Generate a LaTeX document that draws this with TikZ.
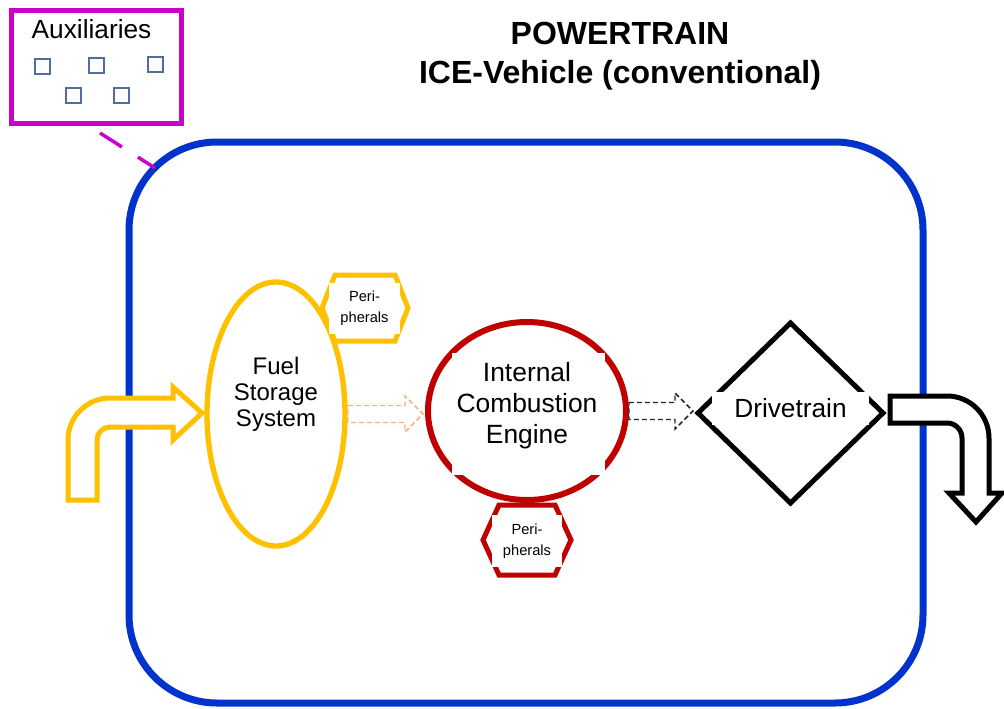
\documentclass[tikz,border=0pt]{standalone}
\usepackage{fontspec}
\setmainfont{Liberation Sans}
\usetikzlibrary{calc,shapes.geometric}
\definecolor{ptblue}{RGB}{0,51,204}
\definecolor{auxmagenta}{RGB}{204,0,204}
\definecolor{auxslate}{RGB}{80,110,155}
\definecolor{fuelyellow}{RGB}{255,192,0}
\definecolor{icered}{RGB}{192,0,0}
\definecolor{flowtan}{RGB}{244,177,131}
\def\hollowarrow[#1](#2)(#3){\draw[#1] ($(#2)+(3,-8.5)$) -- ($(#3 |- #2)+(-23,-8.5)$) -- ($(#3 |- #2)+(-23,-18)$) -- ($(#3 |- #2)+(-5,0)$) -- ($(#3 |- #2)+(-23,18)$) -- ($(#3 |- #2)+(-23,8.5)$) -- ($(#2)+(3,8.5)$) -- cycle;}
\def\periph[#1](#2)(#3:#4:#5){\draw[#1] ($(#2)+(-#3,0)$) -- ($(#2)+(-#4,-#5)$) -- ($(#2)+(#4,-#5)$) -- ($(#2)+(#3,0)$) -- ($(#2)+(#4,#5)$) -- ($(#2)+(-#4,#5)$) -- cycle;}
\tikzset{
	ptframe/.style={draw=ptblue, line width=5.25pt, rounded corners=66pt, minimum width=595.5pt, minimum height=420.75pt, inner sep=0pt, outer sep=0pt},
	auxframe/.style={draw=auxmagenta, line width=3.75pt, minimum width=127.5pt, minimum height=85pt, inner sep=0pt, outer sep=0pt},
	auxunit/.style={draw=auxslate, line width=1.5pt},
	auxlink/.style={draw=auxmagenta, line width=2.6pt, dash pattern=on 19.5pt off 14.25pt},
	fuelshape/.style={ellipse, draw=fuelyellow, line width=4pt, minimum width=103.5pt, minimum height=198pt, inner sep=0pt, outer sep=0pt},
	iceshape/.style={ellipse, draw=icered, line width=4.5pt, minimum width=148.5pt, minimum height=133.5pt, inner sep=0pt, outer sep=0pt},
	driveshape/.style={diamond, draw=black, line width=3.75pt, minimum width=138.75pt, minimum height=135pt, inner sep=0pt, outer sep=0pt},
	perishape/.style={fill=white, line width=3.75pt},
	peritext/.style={fill=white, align=center, inner sep=0pt, minimum width=53pt, minimum height=38.5pt, font=\fontsize{11}{16}\selectfont},
	titletext/.style={anchor=base, font=\fontsize{24}{29}\selectfont\bfseries},
	auxtext/.style={anchor=base west, font=\fontsize{19.7}{24}\selectfont},
	fueltext/.style={align=center, font=\fontsize{18}{19.5}\selectfont},
	icetext/.style={align=center, font=\fontsize{19.8}{23.25}\selectfont},
	drivetext/.style={fill=white, inner sep=0pt, minimum width=117.75pt, minimum height=24.75pt, font=\fontsize{19.7}{24}\selectfont},
	inarrow/.style={draw=fuelyellow, fill=white, line width=3.75pt},
	outarrow/.style={draw=black, fill=white, line width=3.75pt},
	fuelflow/.style={draw=flowtan, line width=1.1pt, dash pattern=on 3.75pt off 2.25pt},
	iceflow/.style={draw=black!85, line width=1.1pt, dash pattern=on 3.75pt off 2.25pt}
}

\begin{document}
\begin{tikzpicture}[x=0.75pt, y=-0.75pt]
	%%%%% START %%%%%
	
	\useasboundingbox[fill=white] (0,0) rectangle (1004,708);
	
	\node[titletext] (title) at (620,44.5) {POWERTRAIN};
	\node[titletext] (subtitle) at (620,83) {ICE-Vehicle (conventional)};
	
	\node[auxframe] (aux) at (96,67) {};
	\node[auxtext] (auxname) at (27,38) {Auxiliaries};
	\draw[auxunit] (34.5,58.5) rectangle (49.5,73.5);
	\draw[auxunit] (88.5,57.5) rectangle (103.5,72.5);
	\draw[auxunit] (147.5,56.5) rectangle (162.5,71.5);
	\draw[auxunit] (65.5,87.5) rectangle (80.5,102.5);
	\draw[auxunit] (113.5,87.5) rectangle (128.5,102.5);
	
	\node[ptframe] (ptrain) at (526,422.5) {};
	\coordinate (auxtail) at (100,133);
	\draw[auxlink] (auxtail) -- ($(ptrain.north west)+(26,26)$);
	
	\draw[inarrow] (68,500) -- (68,440) arc (180:270:42) -- (173,398) -- (173,387) -- (202,413) -- (173,440) -- (173,427) -- (110,427) arc (270:180:13) -- (97,500) -- cycle;
	\draw[outarrow] (890,396) -- (947,396) arc (270:360:42) -- (989,493) -- (1002,493) -- (976,522) -- (949,493) -- (962,493) -- (962,438) arc (0:-90:15) -- (890,423) -- cycle;
	
	\node[fuelshape] (fuel) at (276,414) {};
	\node[fueltext] (fuelname) at (276,394.5) {Fuel\\Storage\\System};
	\coordinate (fuelperi) at (365,308);
	\periph[perishape, draw=fuelyellow](fuelperi)(43:30:33);
	\node[peritext] (fuelperiname) at (364.5,308.5) {Peri-\\pherals};
	
	\node[iceshape] (ice) at (527,411) {};
	\fill[white] ($(ice)+(-75,-58)$) rectangle ($(ice)+(78,64)$);
	\node[icetext] (icename) at (527,406) {Internal\\Combustion\\Engine};
	\coordinate (iceperi) at (527,540);
	\periph[perishape, draw=icered](iceperi)(44:28:35);
	\node[peritext] (iceperiname) at (527,541) {Peri-\\pherals};
	
	\node[driveshape] (drive) at (790.5,413) {};
	\node[drivetext] (drivename) at (790.5,408.5) {Drivetrain};
	
	\hollowarrow[fuelflow](fuel.east)(ice.west);
	\hollowarrow[iceflow](ice.east)(drive.west);
	
	%%%%% END %%%%%
\end{tikzpicture}
\end{document}
